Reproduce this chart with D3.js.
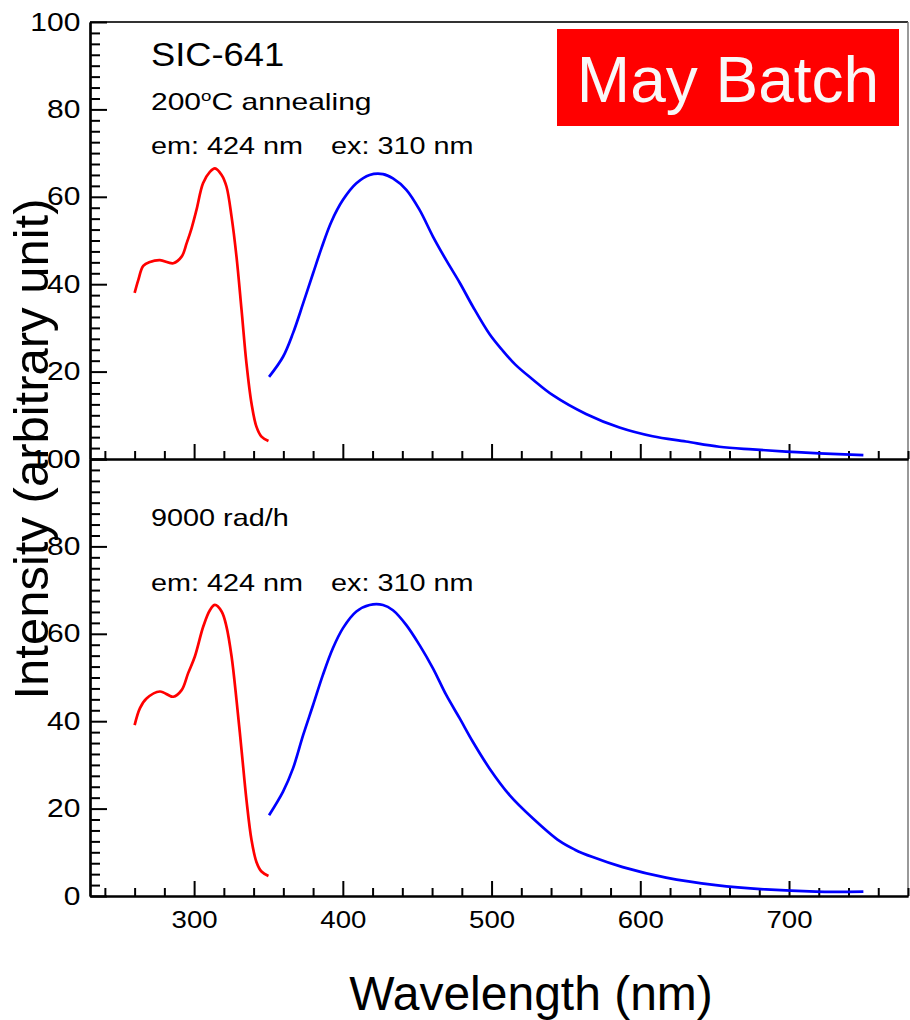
<!DOCTYPE html>
<html>
<head>
<meta charset="utf-8">
<script src="https://cdn.jsdelivr.net/npm/d3@7"></script>
<style>
  body { margin: 0; background: #fff; }
  text { font-family: "Liberation Sans", Arial, Helvetica, sans-serif; fill: #000; }
</style>
</head>
<body>
<svg id="chart" width="910" height="1020"></svg>
<script>
// wavelength (nm), intensity (arbitrary unit)
const topExcitation = [
  [260, 38], [262.5, 41], [265.8, 44.2], [270.3, 45.1], [277, 45.5], [286, 44.8],
  [291.6, 46.3], [295, 49.4], [298.3, 52.8], [301.6, 57], [306, 63.1], [310.6, 65.7],
  [314, 66.5], [318.5, 65], [321.8, 62.3], [325.2, 55.4], [328.5, 46.3], [331.9, 34.1],
  [335.2, 21.9], [338.6, 12.7], [341.9, 7.4], [345.3, 5.1], [350, 4.1]
]
const topEmission = [
  [350.4, 18.8], [359.8, 23.4], [366.5, 28.8], [373.3, 35.6], [380, 42.5], [385.6, 48.2],
  [392.3, 54.3], [400.1, 59.3], [409.1, 63.1], [418, 65], [427, 65.2], [433.7, 64.2],
  [442.7, 61.6], [451.6, 57], [460.6, 50.9], [469.5, 45.5], [478.5, 40.4], [487.4, 34.9],
  [498.6, 28.6], [507, 25], [516, 21.6], [527.7, 18.2], [541.2, 14.6], [563.5, 10.3],
  [586, 7.2], [608.3, 5.2], [630.7, 4.0], [653.1, 2.8], [675.5, 2.2], [697.9, 1.7],
  [720.3, 1.3], [750, 0.9]
]
const bottomExcitation = [
  [260, 39.1], [263.6, 43], [268, 45.2], [277, 46.8], [286, 45.6], [291.6, 47.1],
  [296, 51], [300.5, 54.8], [306.1, 61.6], [310.6, 65.4], [314, 66.6], [318.5, 65.1],
  [321.8, 61.6], [325.2, 54.8], [328.5, 44.9], [331.9, 33.4], [335.2, 22], [338.6, 12.8],
  [341.9, 7.8], [345.3, 5.6], [350, 4.6]
]
const bottomEmission = [
  [350.4, 18.5], [359.8, 23.9], [366.5, 29.2], [373.3, 36.8], [380, 43.7], [386.6, 50.6],
  [393.3, 56.7], [400.1, 61.3], [409.1, 65.1], [418, 66.6], [427, 66.6], [433.7, 65.4],
  [442.7, 62], [451.6, 57.4], [460.6, 52.1], [469.5, 46], [478.5, 40.7], [487.4, 35.3],
  [498.6, 29.2], [512.1, 23.1], [527.7, 17.8], [545.6, 12.6], [556, 10.6], [568, 8.9],
  [588.2, 6.6], [617.3, 4.2], [650.8, 2.5], [684.4, 1.5], [718, 1.0], [750, 1.0]
]

const xMajor = [300, 400, 500, 600, 700]
const xMinor = d3.range(240, 781, 20).filter(d => d % 100 !== 0)
const yMajor = [0, 20, 40, 60, 80, 100]
const yMinor = d3.range(0, 100.1, 2.5).filter(d => d % 20 !== 0)

const panelNotes = [
  ["SIC-641", "200", "C annealing"],
  ["9000 rad/h"]
]
const wlNotes = ["em: 424 nm", "ex: 310 nm"]

const svg = d3.select("#chart")
const margin = { left: 90, right: 2, top: 22, bottom: 124 }
const width = 910, height = 1020
const panelH = (height - margin.top - margin.bottom) / 2
const stretch = 1.2   // the source plot's text is wider than plain Helvetica

const x = d3.scaleLinear().domain([230, 780]).range([margin.left, width - margin.right])

const panels = [
  { ex: topExcitation, em: topEmission, y0: margin.top },
  { ex: bottomExcitation, em: bottomEmission, y0: margin.top + panelH }
]

const line = d3.line().curve(d3.curveCatmullRom.alpha(0.5))

// frame: top + right border
svg.append("line").attr("x1", margin.left).attr("x2", width - margin.right)
  .attr("y1", margin.top).attr("y2", margin.top)
  .attr("stroke", "#333").attr("stroke-width", 2)
svg.append("line").attr("x1", width - margin.right).attr("x2", width - margin.right)
  .attr("y1", margin.top).attr("y2", margin.top + 2 * panelH)
  .attr("stroke", "#777").attr("stroke-width", 1.5)

const addText = (tx, ty, size, stretchX) => svg.append("text")
  .attr("transform", `translate(${tx},${ty}) scale(${stretchX},1)`)
  .style("font-size", size + "px")

panels.forEach((p, i) => {
  const y = d3.scaleLinear().domain([0, 100]).range([p.y0 + panelH, p.y0])
  const bottom = p.y0 + panelH
  const isLast = i === panels.length - 1

  // x axis, ticks pointing inward
  const gxMinor = svg.append("g").attr("transform", `translate(0,${bottom})`)
  gxMinor.call(d3.axisBottom(x).tickValues(xMinor).tickSize(-8).tickSizeOuter(0).tickFormat(""))
  const gx = svg.append("g").attr("transform", `translate(0,${bottom})`)
  gx.call(d3.axisBottom(x).tickValues(xMajor).tickSize(-15).tickSizeOuter(0).tickPadding(16)
    .tickFormat(isLast ? d3.format("d") : ""))
  gx.selectAll(".tick text").style("font-size", "23px")
    .attr("transform", `scale(${stretch},1)`)

  // y axis
  const gyMinor = svg.append("g").attr("transform", `translate(${margin.left},0)`)
  gyMinor.call(d3.axisLeft(y).tickValues(yMinor).tickSize(-10).tickSizeOuter(0).tickFormat(""))
  const gy = svg.append("g").attr("transform", `translate(${margin.left},0)`)
  gy.call(d3.axisLeft(y).tickValues(yMajor).tickSize(-17).tickSizeOuter(0).tickPadding(8)
    .tickFormat(d3.format("d")))
  gy.selectAll(".tick text").style("font-size", "25px")
    .attr("transform", `scale(${stretch},1)`)

  for (const g of [gxMinor, gx, gyMinor, gy]) {
    g.select(".domain").attr("stroke", "#000").attr("stroke-width", 2.2)
    g.selectAll(".tick line").attr("stroke", "#000").attr("stroke-width", 2)
  }

  svg.append("path").datum(p.ex)
    .attr("d", line.x(d => x(d[0])).y(d => y(d[1])))
    .attr("fill", "none").attr("stroke", "#ff0000").attr("stroke-width", 2.7)
  svg.append("path").datum(p.em)
    .attr("d", line.x(d => x(d[0])).y(d => y(d[1])))
    .attr("fill", "none").attr("stroke", "#0000ff").attr("stroke-width", 2.7)

  // annotations
  const notes = panelNotes[i]
  if (i === 0) {
    addText(151, p.y0 + 44, 33, 1.1).text(notes[0])
    const t = addText(151, p.y0 + 88, 24, 1.25)
    t.append("tspan").text(notes[1])
    t.append("tspan").attr("dy", -9).style("font-size", "15px").text("o")
    t.append("tspan").attr("dy", 9).text(notes[2])
  } else {
    addText(151, p.y0 + 67, 24, stretch).text(notes[0])
  }
  addText(151, p.y0 + 132, 24, stretch).text(wlNotes[0])
  addText(331, p.y0 + 132, 24, stretch).text(wlNotes[1])
})

// axis titles
svg.append("text").attr("x", 531).attr("y", 1010).attr("text-anchor", "middle")
  .style("font-size", "48px").text("Wavelength (nm)")
svg.append("text").attr("transform", "translate(48,449) rotate(-90)").attr("text-anchor", "middle")
  .style("font-size", "49px").text("Intensity (arbitrary unit)")

// batch label
svg.append("rect").attr("x", 557).attr("y", 29).attr("width", 342).attr("height", 97)
  .attr("fill", "#ff0000")
svg.append("text").attr("x", 728).attr("y", 102).attr("text-anchor", "middle")
  .style("font-size", "64px").style("fill", "#f8f8f8").text("May Batch")
</script>
</body>
</html>
